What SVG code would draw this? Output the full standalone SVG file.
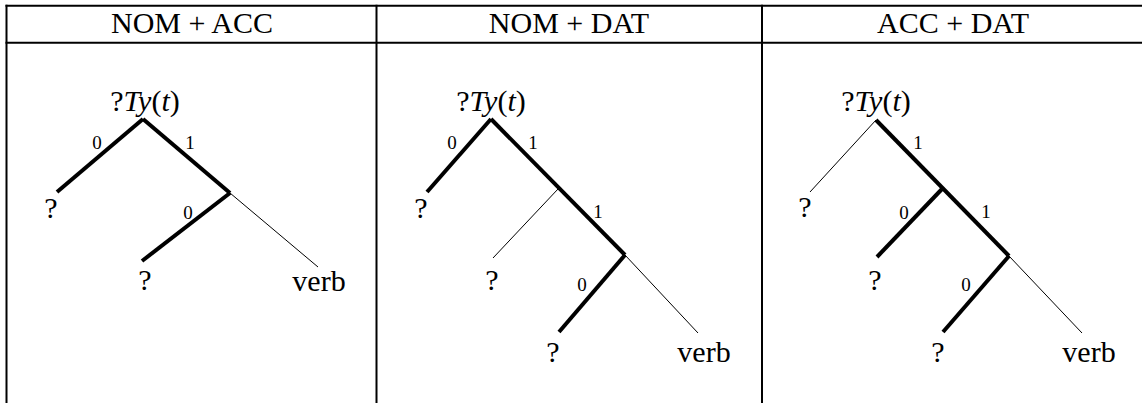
<svg xmlns="http://www.w3.org/2000/svg" width="1142" height="403" viewBox="0 0 1142 403">
<style>
.t{font-family:"Liberation Serif","Times New Roman",serif;fill:#000}
.h{font-size:30px;text-anchor:middle}
.n{font-size:30px;text-anchor:middle}
.l{font-size:19px;text-anchor:middle}
.i{font-style:italic}
.grid{stroke:#000;stroke-width:2;fill:none}
.thick{stroke:#000;stroke-width:4;fill:none}
.thin{stroke:#000;stroke-width:1;fill:none}
</style>
<rect width="1142" height="403" fill="#fff"/>
<g id="table" class="grid">
<line x1="5.5" y1="5.7" x2="1142" y2="5.7"/>
<line x1="5.5" y1="42.7" x2="1142" y2="42.7"/>
<line x1="6.5" y1="4.7" x2="6.5" y2="403"/>
<line x1="376.5" y1="4.7" x2="376.5" y2="403"/>
<line x1="762" y1="4.7" x2="762" y2="403"/>
</g>
<g id="headers">
<text class="t h" x="192" y="33">NOM + ACC</text>
<text class="t h" x="569" y="33">NOM + DAT</text>
<text class="t h" x="953" y="33">ACC + DAT</text>
</g>
<g id="connectors">
<line class="thick" x1="143" y1="119" x2="57" y2="192"/>
<line class="thick" x1="143" y1="119" x2="230" y2="193"/>
<line class="thick" x1="230" y1="193" x2="142" y2="261"/>
<line class="thin" x1="230" y1="193" x2="318" y2="267"/>
<line class="thick" x1="491" y1="119" x2="427" y2="192"/>
<line class="thick" x1="491" y1="119" x2="625" y2="255"/>
<line class="thin" x1="558" y1="189" x2="493" y2="258"/>
<line class="thick" x1="625" y1="255" x2="559" y2="332"/>
<line class="thin" x1="625" y1="255" x2="698" y2="333"/>
<line class="thin" x1="876" y1="120" x2="810" y2="192"/>
<line class="thick" x1="876" y1="120" x2="1009" y2="256"/>
<line class="thick" x1="942" y1="189" x2="877" y2="257"/>
<line class="thick" x1="1009" y1="256" x2="943" y2="332"/>
<line class="thin" x1="1009" y1="256" x2="1082" y2="333"/>
</g>
<g id="tree1">
<text class="t n" x="145" y="111">?<tspan class="i">Ty</tspan>(<tspan class="i">t</tspan>)</text>
<text class="t l" x="97" y="149">0</text>
<text class="t l" x="190" y="149">1</text>
<text class="t n" x="51" y="218">?</text>
<text class="t l" x="188" y="219">0</text>
<text class="t n" x="145" y="290">?</text>
<text class="t n" x="319" y="291">verb</text>
</g>
<g id="tree2">
<text class="t n" x="491" y="111">?<tspan class="i">Ty</tspan>(<tspan class="i">t</tspan>)</text>
<text class="t l" x="452" y="149">0</text>
<text class="t l" x="533" y="149">1</text>
<text class="t n" x="421" y="218">?</text>
<text class="t l" x="598" y="218">1</text>
<text class="t n" x="492" y="290">?</text>
<text class="t l" x="582" y="291">0</text>
<text class="t n" x="553" y="362">?</text>
<text class="t n" x="704" y="362">verb</text>
</g>
<g id="tree3">
<text class="t n" x="876" y="111">?<tspan class="i">Ty</tspan>(<tspan class="i">t</tspan>)</text>
<text class="t l" x="918" y="149">1</text>
<text class="t n" x="805" y="217">?</text>
<text class="t l" x="904" y="219">0</text>
<text class="t l" x="986" y="218">1</text>
<text class="t n" x="875" y="290">?</text>
<text class="t l" x="966" y="291">0</text>
<text class="t n" x="938" y="362">?</text>
<text class="t n" x="1089" y="362">verb</text>
</g>
</svg>
